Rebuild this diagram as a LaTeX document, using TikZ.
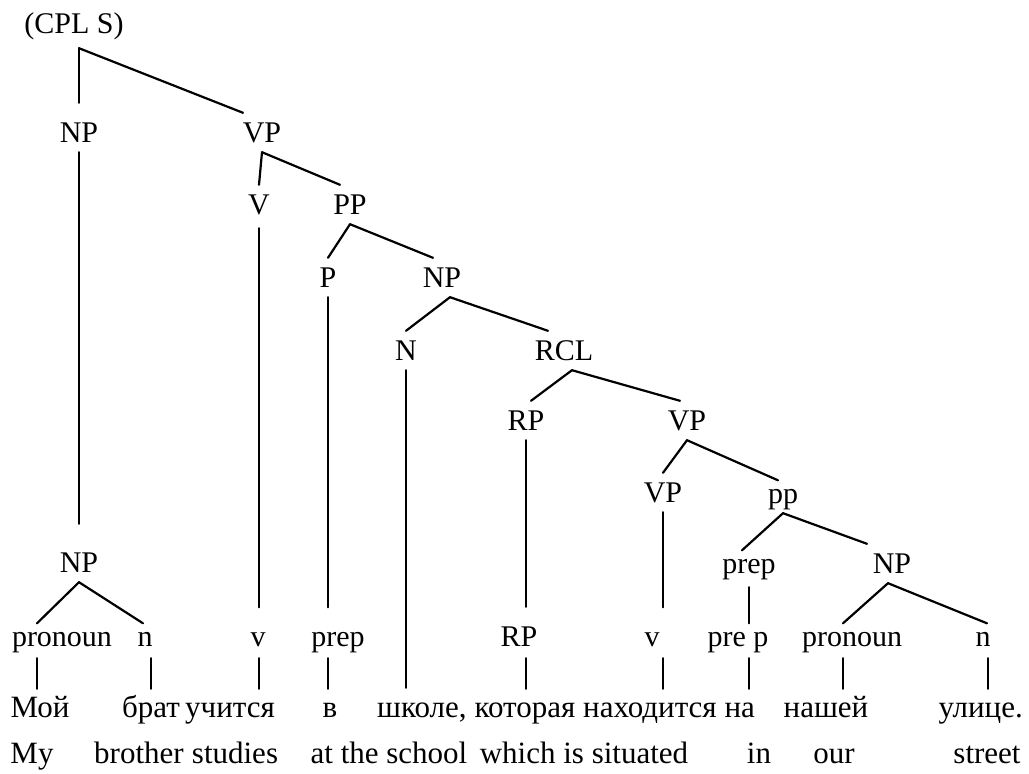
\documentclass[tikz,border=0pt]{standalone}
\usepackage{fontspec}
\setmainfont{Liberation Serif}
\begin{document}
\begin{tikzpicture}[x=1pt,y=-1pt,
  lab/.style={font=\fontsize{30}{36}\selectfont, inner xsep=0pt, inner ysep=9pt, anchor=base, text depth=1pt},
  capn/.style={lab, text height=20pt},
  lown/.style={lab, text height=13.5pt},
  wordn/.style={lab, font=\fontsize{31}{37}\selectfont, text height=14pt},
  br/.style={line width=2.2pt, line cap=round}]
\useasboundingbox[fill=white] (0,0) rectangle (1029,774);

% row 0
\node[capn] (cpl) at (74,33) {(CPL S)};
% row 1
\node[capn] (np1) at (79,142) {NP};
\node[capn] (vp1) at (262,142) {VP};
% row 2
\node[capn] (v) at (259,214) {V};
\node[capn] (pp1) at (350,214) {PP};
% row 3
\node[capn] (p) at (328,287) {P};
\node[capn] (np2) at (442,287) {NP};
% row 4
\node[capn] (n) at (406,360) {N};
\node[capn] (rcl) at (564,360) {RCL};
% row 5
\node[capn] (rp1) at (526,430) {RP};
\node[capn] (vp2) at (687,430) {VP};
% row 6
\node[capn] (vp3) at (663,502) {VP};
\node[lown] (pp2) at (783,503) {pp};
% row 7
\node[capn] (np0) at (79,572) {NP};
\node[lown] (prep2) at (749,573) {prep};
\node[capn] (np3) at (892,573) {NP};
% row 8
\node[lown] (pron1) at (62,646) {pronoun};
\node[lown] (n1) at (145,646) {n};
\node[lown] (v1) at (258,646) {v};
\node[lown] (prep1) at (338,646) {prep};
\node[capn] (rp2) at (519,646) {RP};
\node[lown] (v2) at (652,646) {v};
\node[lown] (prep3) at (738,646) {pre p};
\node[lown] (pron2) at (852,646) {pronoun};
\node[lown] (n2) at (983,646) {n};
% row 9
\node[wordn] (w1) at (40,717) {Мой};
\node[wordn, anchor=base east] (w2) at (180,717) {брат};
\node[wordn, anchor=base west] (w3) at (185,717) {учится};
\node[wordn] (w4) at (330,717) {в};
\node[wordn, anchor=base west] (w5) at (377,717) {школе,};
\node[wordn, anchor=base west] (w6) at ([xshift=7.5pt]w5.base east) {которая};
\node[wordn, anchor=base west] (w7) at ([xshift=7.5pt]w6.base east) {находится};
\node[wordn, anchor=base west] (w8) at ([xshift=7.5pt]w7.base east) {на};
\node[wordn] (w9) at (826,717) {нашей};
\node[wordn, anchor=base east] (w10) at (1023,717) {улице.};
% row 10
\node[wordn] (e1) at (32,763) {My};
\node[wordn] (e2) at (139,763) {brother};
\node[wordn] (e3) at (235,763) {studies};
\node[wordn] (e4) at (389,763) {at the school};
\node[wordn] (e5) at (584,763) {which is situated};
\node[wordn] (e6) at (759,763) {in};
\node[wordn] (e7) at (834,763) {our};
\node[wordn] (e8) at (987,763) {street};

% connectors
\coordinate (cplA) at ([yshift=-5pt]cpl.south -| np1.north);
\draw[br] (cplA) -- ([yshift=10pt]np1.north);
\draw[br] (cplA) -- ([xshift=-19pt]vp1.north);
\draw[br] (vp1.south) -- (v.north);
\draw[br] (vp1.south) -- ([xshift=-10pt]pp1.north);
\draw[br] ([yshift=-4pt]v.south) -- ([yshift=16pt]v.south |- v1.north);
\draw[br] (pp1.south) -- (p.north);
\draw[br] (pp1.south) -- ([xshift=-9pt]np2.north);
\draw[br] (p.south) -- ([yshift=16pt]p.south |- prep1.north);
\draw[br] ([xshift=8pt]np2.south) -- (n.north);
\draw[br] ([xshift=8pt]np2.south) -- ([xshift=-16pt]rcl.north);
\draw[br] (n.south) -- ([yshift=6pt]n.south |- w5.north);
\draw[br] ([xshift=8pt]rcl.south) -- ([xshift=5pt]rp1.north);
\draw[br] ([xshift=8pt]rcl.south) -- ([xshift=-7pt]vp2.north);
\draw[br] (rp1.south) -- ([yshift=10pt]rp1.south |- rp2.north);
\draw[br] (vp2.south) -- (vp3.north);
\draw[br] (vp2.south) -- ([xshift=-5pt]pp2.north);
\draw[br] (vp3.south) -- ([yshift=16pt]vp3.south |- v2.north);
\draw[br] (pp2.south) -- ([xshift=-7pt]prep2.north);
\draw[br] (pp2.south) -- ([xshift=-25pt]np3.north);
\draw[br] ([yshift=-4pt]prep2.south) -- (prep2.south |- prep3.north);
\draw[br] ([xshift=-4pt]np3.south) -- ([xshift=-9pt]pron2.north);
\draw[br] ([xshift=-4pt]np3.south) -- ([xshift=4pt]n2.north);
\draw[br] (np1.south) -- ([yshift=19pt]np0.north);
\draw[br] (np0.south) -- ([xshift=-25pt]pron1.north);
\draw[br] (np0.south) -- ([xshift=-2pt]n1.north);
% short links to the words
\draw[br] ([xshift=-3pt,yshift=-2pt]pron1.south -| w1.north) -- ([xshift=-3pt,yshift=5pt]w1.north);
\draw[br] ([yshift=-2pt]n1.south -| w2.north) -- ([yshift=5pt]w2.north);
\draw[br] ([yshift=-2pt]v1.south -| v.south) -- ([yshift=5pt]w3.north -| v.south);
\draw[br] ([yshift=-2pt]prep1.south -| p.south) -- ([yshift=5pt]w4.north -| p.south);
\draw[br] ([yshift=-2pt]rp2.south -| rp1.south) -- ([yshift=5pt]w6.north -| rp1.south);
\draw[br] ([yshift=-2pt]v2.south -| vp3.south) -- ([yshift=5pt]w7.north -| vp3.south);
\draw[br] ([yshift=-2pt]prep3.south -| prep2.south) -- ([yshift=5pt]w8.north -| prep2.south);
\draw[br] ([xshift=-9pt,yshift=-2pt]pron2.south) -- ([xshift=-9pt,yshift=5pt]w9.north -| pron2.south);
\draw[br] ([xshift=5pt,yshift=-2pt]n2.south) -- ([xshift=5pt,yshift=5pt]w10.north -| n2.south);
\end{tikzpicture}
\end{document}
